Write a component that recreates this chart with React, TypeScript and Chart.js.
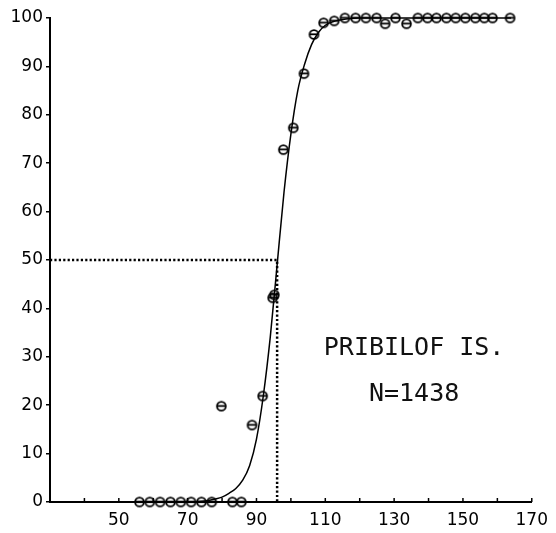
import React, { useEffect, useRef } from "react";
import { Chart, registerables } from "chart.js";

Chart.register(...registerables);

// Observed data points (length, percent mature)
const pointLengths = [56, 59, 62, 65, 68, 71, 74, 77, 79.8, 83, 85.6, 88.7, 91.8, 94.7, 95.2, 97.8, 100.7, 103.8, 106.7, 109.5, 112.6, 115.7, 118.8, 121.8, 124.9, 127.4, 130.4, 133.6, 136.9, 139.7, 142.3, 145.2, 147.9, 150.7, 153.6, 156.2, 158.6, 163.7];
const pointPercent = [0, 0, 0, 0, 0, 0, 0, 0, 19.8, 0, 0, 15.9, 21.9, 42.2, 42.8, 72.8, 77.3, 88.5, 96.6, 99.0, 99.4, 100, 100, 100, 100, 98.8, 100, 98.8, 100, 100, 100, 100, 100, 100, 100, 100, 100, 100];

// Fitted curve
const curveLengths = [56, 70, 75, 78, 80, 82, 84, 86, 88, 90, 92, 94, 96, 98, 100, 102, 104, 106, 108, 110, 113, 116, 120, 164];
const curvePercent = [0, 0, 0.2, 0.6, 1, 1.8, 2.8, 4.5, 7.5, 13, 22, 34, 49, 64, 76, 85, 90.5, 94.5, 97, 98.5, 99.4, 99.8, 100, 100];

// 50% reference (dotted)
const refLengths = [30, 96, 96];
const refPercent = [50, 50, 0];

const xLabeled = [50, 70, 90, 110, 130, 150, 170];
const titleLines = ["PRIBILOF IS.", "N=1438"];
const titleX = 135.8;
const titleY = [31.8, 22.3];

function makeSymbol(): HTMLCanvasElement {
  const c = document.createElement("canvas");
  c.width = 13;
  c.height = 13;
  const g = c.getContext("2d")!;
  g.strokeStyle = "#000";
  g.lineWidth = 1.8;
  g.beginPath();
  g.arc(6.5, 6.5, 4.4, 0, Math.PI * 2);
  g.stroke();
  g.beginPath();
  g.moveTo(2.5, 6.3);
  g.lineTo(10.5, 6.3);
  g.stroke();
  return c;
}

export default function App() {
  const ref = useRef<HTMLCanvasElement>(null);
  useEffect(() => {
    document.body.style.margin = "0";
    const sym = makeSymbol();
    const innerTicks = {
      id: "innerTicks",
      afterDatasetsDraw(chart: any) {
        const ctx = chart.ctx;
        const xs = chart.scales.x;
        const bottom = chart.chartArea.bottom;
        ctx.save();
        ctx.strokeStyle = "#000";
        ctx.lineWidth = 1.5;
        xs.ticks.forEach((t: any) => {
          const px = xs.getPixelForValue(t.value);
          ctx.beginPath();
          ctx.moveTo(px, bottom);
          ctx.lineTo(px, bottom - 4);
          ctx.stroke();
        });
        const ys = chart.scales.y;
        ctx.fillStyle = "#111";
        ctx.font = "25px 'DejaVu Sans Mono'";
        ctx.textAlign = "center";
        ctx.textBaseline = "middle";
        titleLines.forEach((s, i) => {
          ctx.fillText(s, xs.getPixelForValue(titleX), ys.getPixelForValue(titleY[i]));
        });
        ctx.restore();
      },
    };
    const chart = new Chart(ref.current!, {
      type: "scatter",
      data: {
        datasets: [
          {
            data: pointLengths.map((x, i) => ({ x, y: pointPercent[i] })),
            pointStyle: sym as any,
            pointRadius: 5,
            showLine: false,
            clip: false as any,
            order: 0,
          },
          {
            data: curveLengths.map((x, i) => ({ x, y: curvePercent[i] })),
            showLine: true,
            borderColor: "#000",
            borderWidth: 1.5,
            pointRadius: 0,
            cubicInterpolationMode: "monotone",
            clip: false as any,
            order: 1,
          },
          {
            data: refLengths.map((x, i) => ({ x, y: refPercent[i] })),
            showLine: true,
            borderColor: "#000",
            borderWidth: 2.5,
            borderDash: [2.2, 2.2],
            pointRadius: 0,
            order: 2,
          },
        ],
      },
      options: {
        animation: false,
        responsive: false,
        layout: { padding: { top: 18, right: 19, left: 0, bottom: 0 } },
        plugins: { legend: { display: false }, tooltip: { enabled: false } },
        scales: {
          x: {
            type: "linear",
            min: 30,
            max: 170,
            afterFit: (s: any) => {
              s.height = 31;
            },
            border: { display: true, color: "#000", width: 2 },
            grid: { display: true, drawOnChartArea: false, drawTicks: false, color: "#000" },
            ticks: {
              stepSize: 10,
              autoSkip: false,
              maxRotation: 0,
              padding: 8,
              color: "#000",
              font: { family: "'DejaVu Sans'", size: 17 },
              callback: (v: any) => (xLabeled.includes(Number(v)) ? String(v) : ""),
            },
          },
          y: {
            type: "linear",
            min: 0,
            max: 100,
            afterFit: (s: any) => {
              s.width = 50;
            },
            border: { display: true, color: "#000", width: 2 },
            grid: { display: true, drawOnChartArea: false, drawTicks: true, tickLength: 4, color: "#000", lineWidth: 1.5 },
            ticks: {
              stepSize: 10,
              padding: 3,
              color: "#000",
              font: { family: "'DejaVu Sans'", size: 17 },
            },
          },
        },
      },
      plugins: [innerTicks],
    });
    return () => chart.destroy();
  }, []);
  return (
    <div style={{ width: 556, height: 533 }}>
      <canvas ref={ref} width={556} height={533} />
    </div>
  );
}
